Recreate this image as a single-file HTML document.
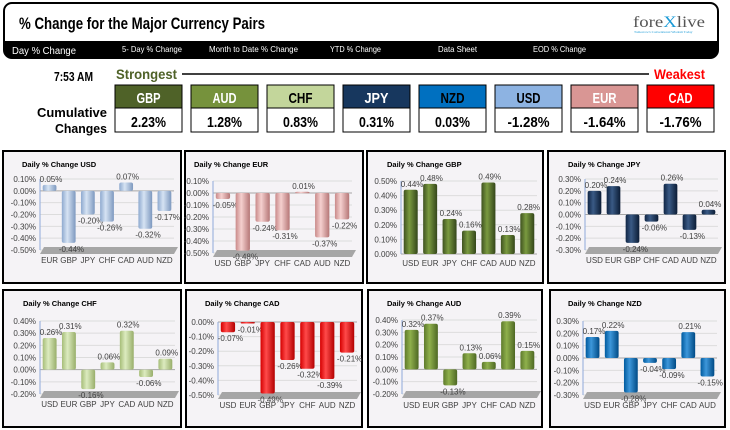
<!DOCTYPE html>
<html><head><meta charset="utf-8"><style>
body{margin:0;background:#fff;}
svg{display:block;font-family:"Liberation Sans",sans-serif;}
</style></head><body>
<svg id="s" width="730" height="430" viewBox="0 0 730 430" xmlns="http://www.w3.org/2000/svg">
<defs id="defs"></defs>
<g>
<rect x="4" y="3" width="714" height="55" rx="8" fill="#fff" stroke="#000" stroke-width="2"/>
<path d="M4 41 H718 V50 Q718 58 710 58 H12 Q4 58 4 50 Z" fill="#000"/>
<text x="19" y="29" font-size="17" font-weight="bold" fill="#000" textLength="246" lengthAdjust="spacingAndGlyphs">% Change for the Major Currency Pairs</text>
<text x="633" y="27" font-family="Liberation Serif,serif" font-size="16" fill="#555" textLength="72" lengthAdjust="spacingAndGlyphs">fore<tspan fill="#1a9ad6">X</tspan>live</text>
<text x="634" y="33" font-family="Liberation Serif,serif" font-size="3.5" fill="#1a9ad6">Tomorrow's Conventional Wisdom Today</text>
<text x="12" y="54" font-size="10" fill="#fff" textLength="64" lengthAdjust="spacingAndGlyphs">Day % Change</text>
<text x="122" y="52" font-size="8.5" fill="#fff" textLength="60" lengthAdjust="spacingAndGlyphs">5- Day % Change</text>
<text x="209" y="52" font-size="8.5" fill="#fff" textLength="89" lengthAdjust="spacingAndGlyphs">Month to Date % Change</text>
<text x="330" y="52" font-size="8.5" fill="#fff" textLength="51" lengthAdjust="spacingAndGlyphs">YTD % Change</text>
<text x="438" y="52" font-size="8.5" fill="#fff" textLength="39" lengthAdjust="spacingAndGlyphs">Data Sheet</text>
<text x="533" y="52" font-size="8.5" fill="#fff" textLength="53" lengthAdjust="spacingAndGlyphs">EOD % Change</text>
<text x="54" y="81" font-size="13" font-weight="bold" fill="#000" textLength="39" lengthAdjust="spacingAndGlyphs">7:53 AM</text>
<text x="116" y="79" font-size="14" font-weight="bold" fill="#4f6228" textLength="61" lengthAdjust="spacingAndGlyphs">Strongest</text>
<line x1="182" y1="74" x2="649" y2="74" stroke="#000" stroke-width="1.5"/>
<text x="654" y="79" font-size="14" font-weight="bold" fill="#ff0000" textLength="51" lengthAdjust="spacingAndGlyphs">Weakest</text>
<text x="37" y="117" font-size="13" font-weight="bold" fill="#000" textLength="70" lengthAdjust="spacingAndGlyphs">Cumulative</text>
<text x="55" y="133" font-size="13" font-weight="bold" fill="#000" textLength="52" lengthAdjust="spacingAndGlyphs">Changes</text>
</g>
<g id="boxes"></g>
<g id="charts"></g>
</svg>
<script>
const NS="http://www.w3.org/2000/svg";
function mk(tag,attrs,parent){const e=document.createElementNS(NS,tag);for(const k in attrs)e.setAttribute(k,attrs[k]);if(parent)parent.appendChild(e);return e;}

const rankCurrencies=["GBP","AUD","CHF","JPY","NZD","USD","EUR","CAD"];
const rankValues=["2.23%","1.28%","0.83%","0.31%","0.03%","-1.28%","-1.64%","-1.76%"];
const rankFill=["#4f6228","#76923c","#c3d69b","#17375e","#0070c0","#8db3e2","#d99694","#ff0000"];
const rankText=["#fff","#fff","#000","#fff","#000","#000","#fff","#fff"];
const boxes=document.getElementById('boxes');
rankCurrencies.forEach((c,i)=>{
  const x=115+76*i;
  const g=mk('g',{},boxes);
  
  
  mk('rect',{x:x,y:85,width:67,height:23,fill:rankFill[i],stroke:'#000','stroke-width':1},g);
  mk('rect',{x:x,y:108,width:67,height:24,fill:'#fff',stroke:'#000','stroke-width':1},g);
  const t=mk('text',{x:x+33.5,y:103,'text-anchor':'middle','font-size':15,'font-weight':'bold',fill:rankText[i],textLength:24,lengthAdjust:'spacingAndGlyphs'},g);t.textContent=c;
  const vl=rankValues[i].length*7;
  const v=mk('text',{x:x+33.5,y:127,'text-anchor':'middle','font-size':15,'font-weight':'bold',fill:'#000',textLength:vl,lengthAdjust:'spacingAndGlyphs'},g);v.textContent=rankValues[i];
});

const catsUSD=["EUR","GBP","JPY","CHF","CAD","AUD","NZD"];
const valsUSD=[0.05,-0.44,-0.20,-0.26,0.07,-0.32,-0.17];
const catsEUR=["USD","GBP","JPY","CHF","CAD","AUD","NZD"];
const valsEUR=[-0.05,-0.48,-0.24,-0.31,0.01,-0.37,-0.22];
const catsGBP=["USD","EUR","JPY","CHF","CAD","AUD","NZD"];
const valsGBP=[0.44,0.48,0.24,0.16,0.49,0.13,0.28];
const catsJPY=["USD","EUR","GBP","CHF","CAD","AUD","NZD"];
const valsJPY=[0.20,0.24,-0.24,-0.06,0.26,-0.13,0.04];
const catsCHF=["USD","EUR","GBP","JPY","CAD","AUD","NZD"];
const valsCHF=[0.26,0.31,-0.16,0.06,0.32,-0.06,0.09];
const catsCAD=["USD","EUR","GBP","JPY","CHF","AUD","NZD"];
const valsCAD=[-0.07,-0.01,-0.49,-0.26,-0.32,-0.39,-0.21];
const catsAUD=["USD","EUR","GBP","JPY","CHF","CAD","NZD"];
const valsAUD=[0.32,0.37,-0.13,0.13,0.06,0.39,0.15];
const catsNZD=["USD","EUR","GBP","JPY","CHF","CAD","AUD"];
const valsNZD=[0.17,0.22,-0.28,-0.04,-0.09,0.21,-0.15];
const ticksUSD=[0.1,0,-0.1,-0.2,-0.3,-0.4,-0.5];
const ticksEUR=[0.1,0,-0.1,-0.2,-0.3,-0.4,-0.5];
const ticksGBP=[0.5,0.4,0.3,0.2,0.1,0];
const ticksJPY=[0.3,0.2,0.1,0,-0.1,-0.2,-0.3];
const ticksCHF=[0.4,0.3,0.2,0.1,0,-0.1,-0.2];
const ticksCAD=[0,-0.1,-0.2,-0.3,-0.4,-0.5];
const ticksAUD=[0.4,0.3,0.2,0.1,0,-0.1,-0.2];
const ticksNZD=[0.3,0.2,0.1,0,-0.1,-0.2,-0.3];

const charts=[
 {name:'USD',cats:catsUSD,vals:valsUSD,ticks:ticksUSD,box:[3,151,178,132],top:179,bot:250,left:40,right:174,cy:263,tx:22,ty:167,col:['#8ea9cf','#d6e3f3','#7d98bf']},
 {name:'EUR',cats:catsEUR,vals:valsEUR,ticks:ticksEUR,box:[185,151,178,132],top:181,bot:253,left:213,right:352,cy:266,tx:194,ty:167,col:['#c98a8a','#f5d0cf','#b57676']},
 {name:'GBP',cats:catsGBP,vals:valsGBP,ticks:ticksGBP,box:[367,151,176,132],top:181,bot:254,left:401,right:537,cy:266,tx:387,ty:167,col:['#3f5220','#7a9a40','#34461a']},
 {name:'JPY',cats:catsJPY,vals:valsJPY,ticks:ticksJPY,box:[548,151,177,132],top:179,bot:250,left:585,right:718,cy:263,tx:568,ty:167,col:['#0f2544','#3a5a85','#0b1c35']},
 {name:'CHF',cats:catsCHF,vals:valsCHF,ticks:ticksCHF,box:[3,290,178,137],top:321,bot:394,left:40,right:175,cy:407,tx:23,ty:306,col:['#a6bd78','#dcebbf','#98ae6a']},
 {name:'CAD',cats:catsCAD,vals:valsCAD,ticks:ticksCAD,box:[186,290,176,137],top:322,bot:395,left:218,right:357,cy:408,tx:205,ty:306,col:['#d40000','#ff4a4a','#b30000']},
 {name:'AUD',cats:catsAUD,vals:valsAUD,ticks:ticksAUD,box:[368,290,174,137],top:320,bot:394,left:402,right:537,cy:408,tx:387,ty:306,col:['#5e7a2c','#8fb04c','#4e6824']},
 {name:'NZD',cats:catsNZD,vals:valsNZD,ticks:ticksNZD,box:[550,290,175,137],top:321,bot:395,left:583,right:717,cy:408,tx:568,ty:306,col:['#005a9e','#3d97da','#004a85']}
];
const defs=document.getElementById('defs');
const root=document.getElementById('charts');
charts.forEach(c=>{
  const id=c.name.toLowerCase();
  const gr=mk('linearGradient',{id:'g'+id,x1:0,x2:1,y1:0,y2:0},defs);
  mk('stop',{offset:'0',"stop-color":c.col[0]},gr);
  mk('stop',{offset:'0.4',"stop-color":c.col[1]},gr);
  mk('stop',{offset:'1',"stop-color":c.col[2]},gr);
  const g=mk('g',{},root);
  
  
  const b=c.box;
  const fr=mk('rect',{x:b[0],y:b[1],width:b[2],height:b[3],fill:'#f5f3f6',stroke:'#000','stroke-width':2},g);
  
  
  const t=mk('text',{x:c.tx,y:c.ty,'font-size':7.5,'font-weight':'bold',fill:'#000'},g);
  t.textContent='Daily % Change '+c.name;
  
  
  const tmax=Math.max(...c.ticks),tmin=Math.min(...c.ticks);
  const y=v=>c.top+(tmax-v)/(tmax-tmin)*(c.bot-c.top);
  const n=c.cats.length,slot=(c.right-c.left)/n;
  const x=i=>c.left+slot*(i+0.5);
  c.ticks.forEach(tv=>{
    mk('line',{x1:c.left,x2:c.right,y1:y(tv),y2:y(tv),stroke:tv===0?'#a6a6a6':'#dcdcdc','stroke-width':1},g);
    const tl=mk('text',{x:c.left-4,y:y(tv)+3,'text-anchor':'end','font-size':8,fill:'#404040'},g);
    tl.textContent=tv.toFixed(2)+'%';
    
    
  });
  mk('line',{x1:c.left,x2:c.left,y1:c.top,y2:c.bot,stroke:'#8eaadb','stroke-width':1},g);
  if(tmin<0){
    const fy=y(tmin);
    mk('polygon',{points:`${c.left},${fy+4} ${c.left+4},${fy-3} ${c.right+4},${fy-3} ${c.right},${fy+4}`,fill:'#a6a6a6'},g);
  }
  c.vals.forEach((v,i)=>{
    const bw=slot*0.72,bx=x(i)-bw/2;
    const y0=y(0),y1=y(v);
    const r=mk('rect',{x:bx,y:Math.min(y0,y1),width:bw,height:Math.max(1.5,Math.abs(y1-y0)),rx:2,fill:'url(#g'+id+')'},g);
    
    
    const lv=mk('text',{x:bx-3,y:v>=0?y1-3:y1+9,'font-size':8,fill:'#404040'},g);
    lv.textContent=v.toFixed(2)+'%';
    
    
    const cl=mk('text',{x:x(i),y:c.cy,'text-anchor':'middle','font-size':8,fill:'#404040'},g);
    cl.textContent=c.cats[i];
    
    
  });
});
</script>
</body></html>
